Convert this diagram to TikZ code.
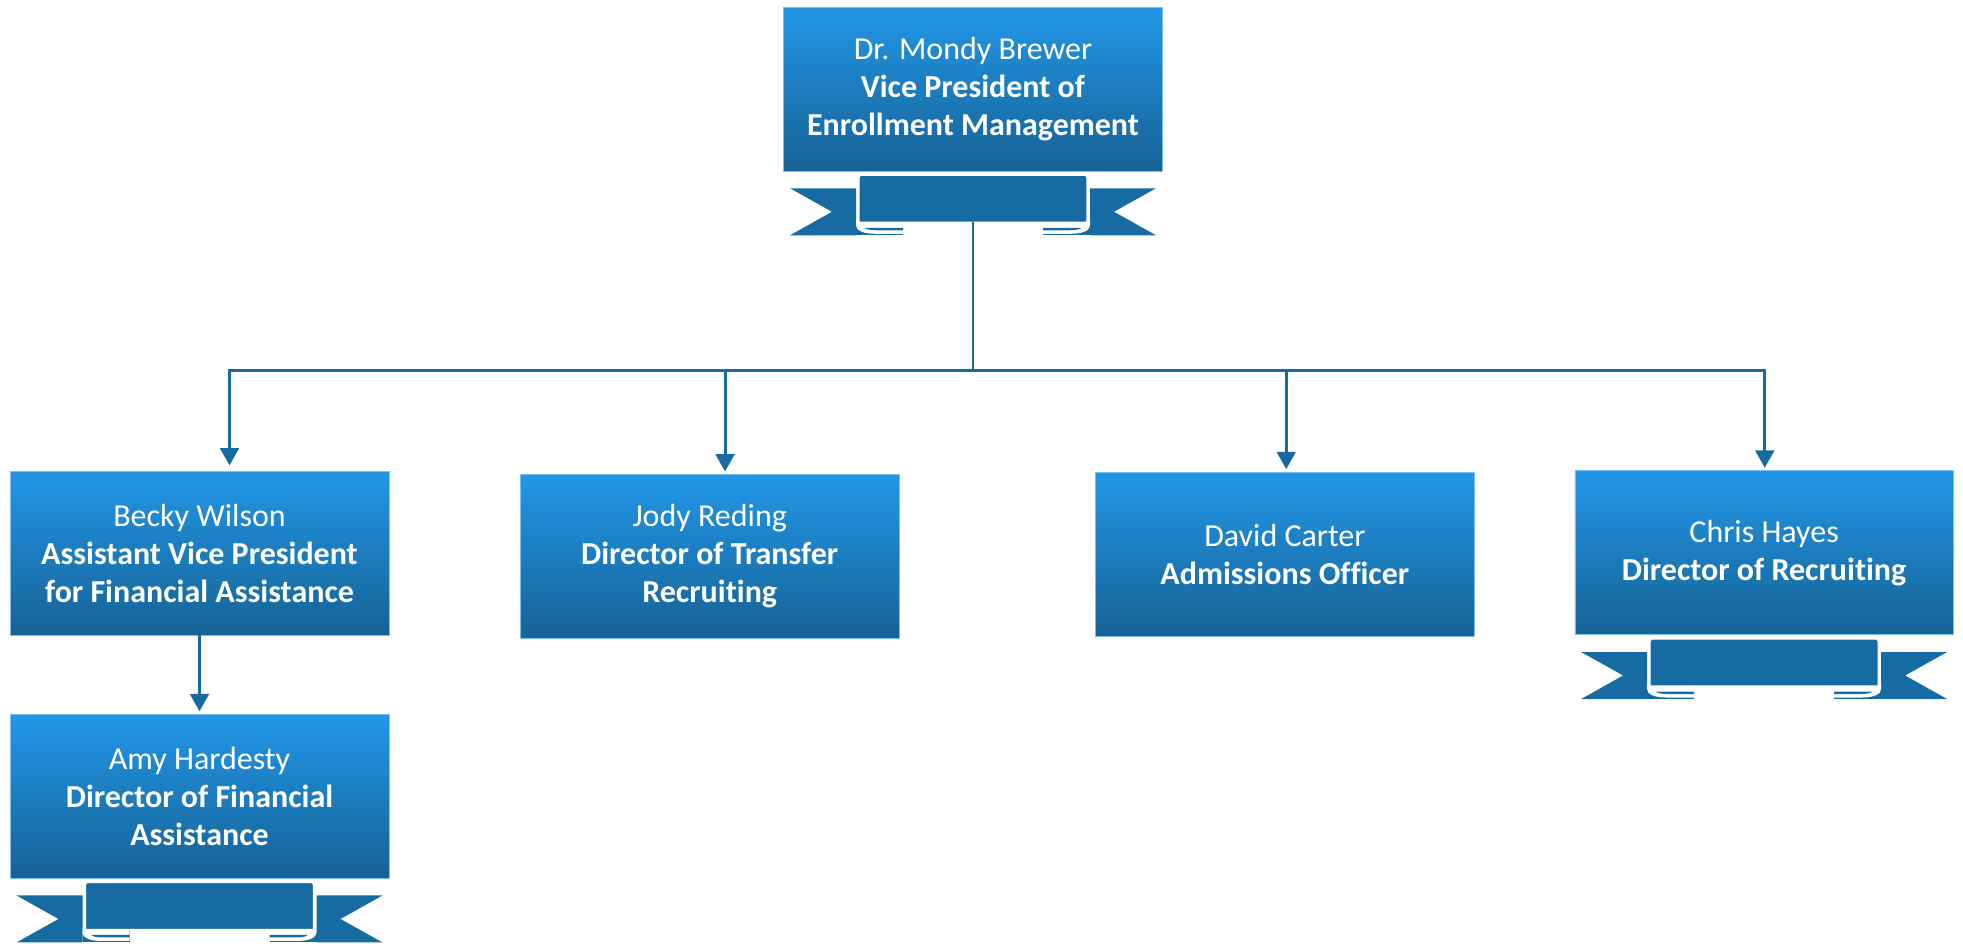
\documentclass[tikz,border=0pt]{standalone}
\usepackage{fontspec}
\setmainfont[Ligatures=NoCommon]{Carlito}
\usepackage{tikz}
\usetikzlibrary{
  arrows.meta,
  calc,
  positioning,
}
\definecolor{boxtop}{RGB}{34, 151, 232}
\definecolor{boxbottom}{RGB}{22, 98, 148}
\definecolor{bandblue}{RGB}{23, 107, 163}
\tikzstyle{orgbox} = [
  rectangle,
  draw=boxtop!60!white,
  line width=0.4pt,
  top color=boxtop,
  bottom color=boxbottom,
  minimum width=284pt,
  minimum height=123pt,
  inner sep=0pt,
  align=center,
  text=white,
  font=\fontsize{24}{28.5}\selectfont,
]
\tikzstyle{arrow} = [
  -{Triangle[length=13pt,width=14pt]},
  line width=2.2pt,
  bandblue,
  shorten >=2pt,
]
\tikzstyle{trunk} = [
  line width=2.2pt,
  bandblue,
]
\tikzset{
  ribbon/.pic={
    \foreach \side in {-1,1} {
      \begin{scope}[xscale=\side]
        \fill[bandblue] (183,17) -- (117,17) -- (117,64) -- (183,64) -- (141,40.5) -- cycle;
        \fill[bandblue] (117,50) rectangle (70,64);
        \fill[white] (117,49) -- (117,54) .. controls (117,59) and (110,62.5) .. (98,62.5) -- (70,62.5) -- (70,49) -- cycle;
        \fill[bandblue] (108,56.5) -- (70,56.5) -- (70,59) -- (96,59) .. controls (102,59) and (108,58) .. (108,56.5) -- cycle;
      \end{scope}
    }
    \filldraw[bandblue,draw=white,line width=0.8pt] (-114,51) {[rounded corners=2pt] -- (-114,4) -- (114,4)} -- (114,51) -- cycle;
    \coordinate (-foot) at (0,51);
  },
}

\begin{document}
\begin{tikzpicture}[x=0.75pt,y=-0.75pt,node distance=0mm and 0mm]

        \useasboundingbox (0,0) rectangle (1963,943);

        \node[orgbox] (vp) at (973,89) {Dr. Mondy Brewer\\\textbf{Vice President of}\\\textbf{Enrollment Management}};
        \node[orgbox] (becky) at (199.5,553) {Becky Wilson\\\textbf{Assistant Vice President}\\\textbf{for Financial Assistance}};
        \node[orgbox,below=59pt of becky] (amy) {Amy Hardesty\\\textbf{Director of Financial}\\\textbf{Assistance}};
        \node[orgbox,yshift=-2.6pt,right=98.25pt of becky] (jody) {Jody Reding\\\textbf{Director of Transfer}\\\textbf{Recruiting}};
        \node[orgbox,yshift=1.8pt,right=147pt of jody] (david) {David Carter\\\textbf{Admissions Officer}};
        \node[orgbox,yshift=1pt,right=75pt of david] (chris) {Chris Hayes\\\textbf{Director of Recruiting}};

        \pic (vpband) at (vp.south) {ribbon};
        \pic (amyband) at (amy.south) {ribbon};
        \pic (chrisband) at (chris.south) {ribbon};

        \coordinate (hub) at (973,370.5);

        \draw[trunk] (vpband-foot) -- (hub);
        \draw[arrow,shorten >=4pt] (hub) -| ([xshift=22.5pt]becky.north);
        \draw[arrow] (hub) -| ([xshift=11.5pt]jody.north);
        \draw[arrow] (hub) -| ([xshift=1pt]david.north);
        \draw[arrow] (hub) -| ([xshift=0.5pt]chris.north);
        \draw[arrow] (becky.south) -- (amy.north);

      \end{tikzpicture}
\end{document}
